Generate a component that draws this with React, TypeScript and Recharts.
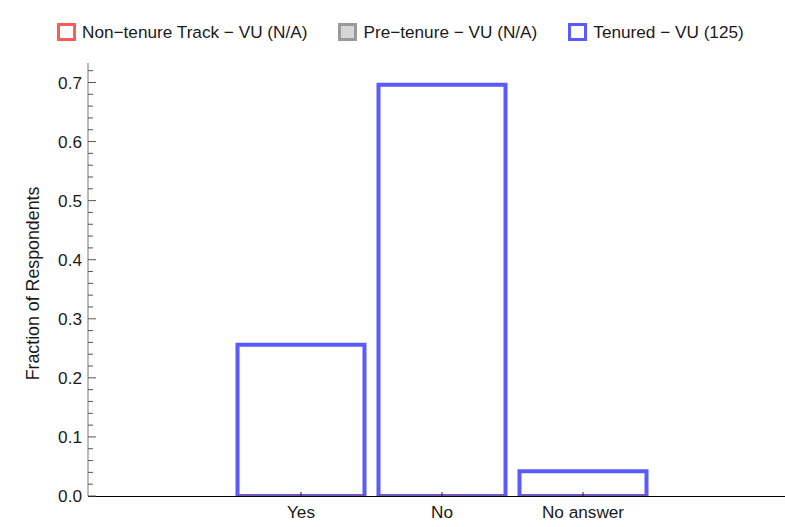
import React from 'react';
import { BarChart, Bar, XAxis, YAxis, Legend } from 'recharts';

const FONT = '"Liberation Sans", Arial, Helvetica, sans-serif';

const categories = ['Yes', 'No', 'No answer'];
const nonTenureTrack = [0, 0, 0];
const preTenure = [0, 0, 0];
const tenured = [0.256, 0.696, 0.042];

const seriesNames = [
  'Non\u2212tenure Track \u2212 VU (N/A)',
  'Pre\u2212tenure \u2212 VU (N/A)',
  'Tenured \u2212 VU (125)',
];

const yMajorTicks = [0, 0.1, 0.2, 0.3, 0.4, 0.5, 0.6, 0.7];
const yMinorTicks = [
  0.02, 0.04, 0.06, 0.08, 0.12, 0.14, 0.16, 0.18, 0.22, 0.24, 0.26, 0.28,
  0.32, 0.34, 0.36, 0.38, 0.42, 0.44, 0.46, 0.48, 0.52, 0.54, 0.56, 0.58,
  0.62, 0.64, 0.66, 0.68, 0.72,
];
const yTickLabels = ['0.0', '0.1', '0.2', '0.3', '0.4', '0.5', '0.6', '0.7'];

const data = categories.map((c, i) => ({
  category: c,
  nonTenure: nonTenureTrack[i],
  preTenure: preTenure[i],
  tenured: tenured[i],
}));

const allYTicks = [...yMajorTicks, ...yMinorTicks].sort((a, b) => a - b);

const legendItems = [
  { name: seriesNames[0], stroke: '#ff5a5a', fill: '#ffffff' },
  { name: seriesNames[1], stroke: '#9a9a9a', fill: '#d6d6d6' },
  { name: seriesNames[2], stroke: '#5a5aff', fill: '#ffffff' },
];

const YTick = (props: any) => {
  const { x, y, payload } = props;
  const v = payload.value;
  const mi = yMajorTicks.findIndex((m) => Math.abs(m - v) < 1e-6);
  const major = mi >= 0;
  return (
    <g>
      <line x1={x} x2={x + (major ? 8 : 5)} y1={y} y2={y} stroke="#555" strokeWidth={1} />
      {major && (
        <text x={x - 6} y={y} dy="0.35em" textAnchor="end" fontSize={17.2} fontFamily={FONT} fill="#1a1a1a">
          {yTickLabels[mi]}
        </text>
      )}
    </g>
  );
};

const XTick = (props: any) => {
  const { x, y, payload } = props;
  return (
    <g>
      <line x1={x} x2={x} y1={y} y2={y - 4} stroke="#222" strokeWidth={1} />
      <text x={x} y={y + 22} textAnchor="middle" fontSize={17.2} fontFamily={FONT} fill="#1a1a1a">
        {payload.value}
      </text>
    </g>
  );
};

const YLabel = (props: any) => {
  const vb = props.viewBox || { x: 28, y: 63, width: 60, height: 433 };
  const cx = 33;
  const cy = vb.y + vb.height / 2 + 4;
  return (
    <text
      x={cx}
      y={cy}
      dy="0.35em"
      textAnchor="middle"
      transform={`rotate(-90, ${cx}, ${cy})`}
      fontSize={17.8}
      fontFamily={FONT}
      fill="#1a1a1a"
    >
      Fraction of Respondents
    </text>
  );
};

const LegendContent = () => (
  <div style={{ display: 'flex', alignItems: 'center', fontFamily: FONT, fontSize: 17.2, color: '#1a1a1a', whiteSpace: 'nowrap' }}>
    {legendItems.map((it, i) => (
      <div key={i} style={{ display: 'flex', alignItems: 'center', marginLeft: i ? 31 : 0 }}>
        <span
          style={{
            display: 'inline-block',
            width: 13,
            height: 12,
            border: `3px solid ${it.stroke}`,
            background: it.fill,
            marginRight: 6,
          }}
        />
        <span style={{ lineHeight: '20px' }}>{it.name}</span>
      </div>
    ))}
  </div>
);

const zeroShape = (color: string) => (p: any) => (
  <line x1={p.x} x2={p.x + p.width} y1={p.y} y2={p.y} stroke={color} strokeWidth={2} />
);

export default function App() {
  return (
    <div style={{ position: 'absolute', left: 0, top: 0, width: 785, height: 527, background: '#fff' }}>
      <BarChart
        width={785}
        height={527}
        data={data}
        margin={{ top: 63, right: 0, bottom: 1, left: 28 }}
        barSize={127}
        barGap={-127}
      >
        <XAxis
          dataKey="category"
          padding={{ left: 142.5, right: 131.5 }}
          tickLine={false}
          tickSize={0}
          tickMargin={0}
          axisLine={{ stroke: '#000', strokeWidth: 1, shapeRendering: 'crispEdges' }}
          height={30}
          tick={<XTick />}
          interval={0}
        />
        <YAxis
          type="number"
          domain={[0, 0.733]}
          allowDataOverflow
          ticks={allYTicks}
          interval={0}
          tick={<YTick />}
          tickLine={false}
          tickSize={0}
          tickMargin={0}
          axisLine={{ stroke: '#777', strokeWidth: 1 }}
          width={60}
          label={<YLabel />}
        />
        <Legend
          verticalAlign="middle"
          align="center"
          layout="horizontal"
          content={<LegendContent />}
          wrapperStyle={{ position: 'absolute', top: 22, left: 57, width: 'auto', height: 'auto' }}
        />
        <Bar dataKey="tenured" fill="#ffffff" stroke="#5a5aff" strokeWidth={4} isAnimationActive={false} />
        <Bar dataKey="nonTenure" fill="none" shape={zeroShape('rgba(220,60,60,0.55)')} isAnimationActive={false} />
        <Bar dataKey="preTenure" fill="none" shape={zeroShape('rgba(110,110,110,0.35)')} isAnimationActive={false} />
      </BarChart>
    </div>
  );
}
